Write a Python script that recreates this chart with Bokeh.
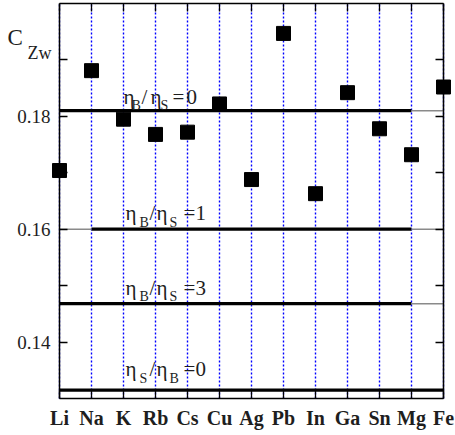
from bokeh.plotting import figure
from bokeh.models import FixedTicker, LinearAxis, Range1d, Label
from bokeh.embed import file_html
from bokeh.resources import INLINE

# ---- data ----
elements = ["Li", "Na", "K", "Rb", "Cs", "Cu", "Ag", "Pb", "In", "Ga", "Sn", "Mg", "Fe"]
c_zw = [0.1704, 0.1881, 0.1795, 0.1768, 0.1772, 0.1822, 0.1688,
        0.1947, 0.1663, 0.1842, 0.1778, 0.1732, 0.1852]
y_major_ticks = [0.14, 0.16, 0.18]
y_minor_ticks = [0.15, 0.17, 0.19]
y_tick_labels = ["0.14", "0.16", "0.18"]
y_lo, y_hi = 0.13, 0.20
ratio_levels = [0.1810, 0.1600, 0.1468, 0.1315]
ratio_num = ["B", "B", "B", "S"]
ratio_den = ["S", "S", "S", "B"]
ratio_val = ["0", "1", "3", "0"]
thick_from = [0, 1, 0, 0]
thick_to = [11, 11, 11, 12]

FONT = "Liberation Serif"
TXT = "#1e1e1e"
xs = list(range(len(elements)))
x_lo, x_hi = xs[0], xs[-1]

# layout of the box inside the 455x435 canvas (pixels)
W, H = 455, 435
BOX_L, BOX_R, BOX_T, BOX_B = 59, 443, 3, 398
sx = (BOX_R - BOX_L) / (x_hi - x_lo)
sy = (BOX_B - BOX_T) / (y_hi - y_lo)

p = figure(frame_width=W, frame_height=H,
           x_range=Range1d(x_lo - BOX_L / sx, x_hi + (W - BOX_R) / sx),
           y_range=Range1d(y_lo - (H - BOX_B) / sy, y_hi + BOX_T / sy),
           x_axis_location=None, y_axis_location=None,
           output_backend="svg", toolbar_location=None,
           min_border=0, min_border_left=0, min_border_right=0,
           min_border_top=0, min_border_bottom=0,
           background_fill_color="white", border_fill_color="white")
p.outline_line_color = None
p.grid.visible = False

def style_axis(ax, labels=True):
    ax.axis_line_color = "black"
    ax.axis_line_width = 1.5
    ax.major_tick_in = 8
    ax.major_tick_out = 0
    ax.major_tick_line_color = "black"
    ax.major_tick_line_width = 1.3
    ax.minor_tick_in = 8
    ax.minor_tick_out = 0
    ax.minor_tick_line_color = "black"
    ax.minor_tick_line_width = 1.3
    if not labels:
        ax.major_label_text_color = None

# blue dotted verticals at each element
p.segment(x0=xs, y0=[y_lo] * len(xs), x1=xs, y1=[y_hi] * len(xs),
          line_color="#0000ff", line_dash="2 2", line_width=1.4)

# reference lines
p.segment(x0=thick_from, y0=ratio_levels, x1=thick_to, y1=ratio_levels,
          line_color="black", line_width=3.2)
thin_x0, thin_x1, thin_y = [], [], []
for lvl, a, b in zip(ratio_levels, thick_from, thick_to):
    if a > x_lo:
        thin_x0.append(x_lo); thin_x1.append(a); thin_y.append(lvl)
    if b < x_hi:
        thin_x0.append(b); thin_x1.append(x_hi); thin_y.append(lvl)
p.segment(x0=thin_x0, y0=thin_y, x1=thin_x1, y1=thin_y, line_color="#8a8a8a", line_width=1.5)

# data squares
p.scatter(xs, c_zw, marker="square", size=14, color="black")

# axes forming the box
bottom = LinearAxis(fixed_location=y_lo, bounds=(x_lo, x_hi), ticker=FixedTicker(ticks=xs),
                    major_label_overrides={i: e for i, e in zip(xs, elements)},
                    major_label_text_font=FONT, major_label_text_font_style="bold",
                    major_label_text_font_size="20px", major_label_text_color=TXT,
                    major_label_standoff=8)
style_axis(bottom)
p.add_layout(bottom, "below")

left = LinearAxis(fixed_location=x_lo, bounds=(y_lo, y_hi),
                  ticker=FixedTicker(ticks=y_major_ticks, minor_ticks=y_minor_ticks),
                  major_label_overrides={t: l for t, l in zip(y_major_ticks, y_tick_labels)},
                  major_label_text_font=FONT, major_label_text_font_size="19px",
                  major_label_text_color=TXT, major_label_standoff=9)
style_axis(left)
p.add_layout(left, "left")

top = LinearAxis(fixed_location=y_hi, bounds=(x_lo, x_hi), ticker=FixedTicker(ticks=xs))
style_axis(top, labels=False)
p.add_layout(top, "above")

right = LinearAxis(fixed_location=x_hi, bounds=(y_lo, y_hi),
                   ticker=FixedTicker(ticks=y_major_ticks, minor_ticks=y_minor_ticks))
style_axis(right, labels=False)
p.add_layout(right, "right")

# ratio labels: eta_num / eta_den = value
lifts = [14, 16, 16, 21]
compact = [0, 8, 18, 27, 37, 49, 63]
wide = [2, 16, 26, 33, 46, 60, 72]
for k, (lvl, num, den, val, lift) in enumerate(zip(ratio_levels, ratio_num, ratio_den,
                                                   ratio_val, lifts)):
    offs = compact if k == 0 else wide
    pieces = [("\u03b7", 0, "21px"), (num, -9, "14px"), ("/", 0, "21px"),
              ("\u03b7", 0, "21px"), (den, -9, "14px"), ("=", 0, "21px"), (val, 0, "21px")]
    for (txt, dy, fs), dx in zip(pieces, offs):
        p.add_layout(Label(x=2, y=lvl, x_offset=dx, y_offset=lift + dy, text=txt,
                           text_font=FONT, text_font_size=fs, text_color=TXT,
                           text_baseline="alphabetic", text_align="left"))

# y title C_Zw
p.add_layout(Label(x=x_lo, y=y_hi, x_offset=-52, y_offset=-34, text="C",
                   text_font=FONT, text_font_size="23px", text_color=TXT,
                   text_baseline="alphabetic"))
p.add_layout(Label(x=x_lo, y=y_hi, x_offset=-32, y_offset=-49, text="Zw",
                   text_font=FONT, text_font_size="18px", text_color=TXT,
                   text_baseline="alphabetic"))

open("out.html", "w").write(file_html(p, INLINE))
